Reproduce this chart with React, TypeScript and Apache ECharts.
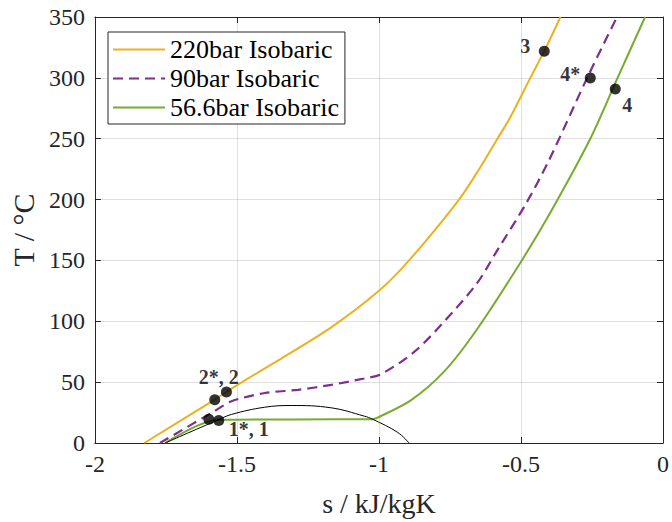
import React, { useEffect, useRef } from "react";
import * as echarts from "echarts";

// Entropy s (kJ/kgK) and temperature T (°C)
const s220: number[] = [-1.826, -1.578, -1.537, -1.498, -1.344, -1.168, -1.0, -0.894, -0.718, -0.642, -0.583, -0.539, -0.467, -0.418, -0.361];
const t220: number[] = [0, 35.6, 41.9, 47.8, 69.4, 95, 125, 150, 200, 227, 250, 267, 300, 322, 350];

const s90: number[] = [-1.771, -1.579, -1.519, -1.402, -1.285, -1.168, -1.052, -0.993, -0.876, -0.771, -0.654, -0.583, -0.484, -0.403, -0.267, -0.162];
const t90: number[] = [0, 26.2, 34.3, 41.1, 43.7, 47.8, 53, 56.5, 74.8, 99.6, 131.5, 158.5, 196, 231.5, 300, 350];

const s566: number[] = [-1.753, -1.566, -1.3, -1.022, -1.005, -0.888, -0.771, -0.654, -0.496, -0.396, -0.256, -0.16, -0.063];
const t566: number[] = [0, 19, 19.4, 19.5, 20.8, 35, 58.6, 93.7, 150.4, 189.6, 250, 300, 350];

const sDome: number[] = [-1.753, -1.566, -1.519, -1.402, -1.309, -1.168, -1.052, -1.022, -0.934, -0.894];
const tDome: number[] = [0, 19, 23.5, 29.4, 30.8, 28.9, 22.1, 19.5, 8.7, 0];

const pointNames: string[] = ["1*", "1", "2*", "2", "3", "4*", "4"];
const pointS: number[] = [-1.599, -1.564, -1.578, -1.537, -0.418, -0.256, -0.168];
const pointT: number[] = [19.5, 18.5, 35.6, 41.9, 321.9, 299.8, 290.9];
const pointLabels: string[] = ["", "1*, 1", "2*, 2", "", "3", "4*", "4"];

const seriesNames: string[] = ["220bar Isobaric", "90bar Isobaric", "56.6bar Isobaric"];
const xTickStep = 0.5;
const yTickStep = 50;

const FONT = '"Liberation Serif", "Times New Roman", serif';
const AXIS_COLOR = "#262626";

const zip = (a: number[], b: number[]) => a.map((v, i) => [v, b[i]]);

const labelOffsets: Record<string, number[]> = {
  "1*, 1": [30, 9],
  "2*, 2": [4, -23],
  "3": [-19, -5],
  "4*": [-20, -4],
  "4": [12, 16],
};

export default function App() {
  const ref = useRef<HTMLDivElement>(null);
  useEffect(() => {
    if (!ref.current) return;
    const chart = echarts.init(ref.current, undefined, { renderer: "svg", width: 672, height: 522 });
    const axisCommon = {
      min: -2,
      max: 0,
      interval: xTickStep,
      axisLine: { show: true, onZero: false, lineStyle: { color: AXIS_COLOR, width: 1 } },
      axisTick: { show: true, inside: true, length: 6, lineStyle: { color: AXIS_COLOR } },
    };
    const yCommon = {
      min: 0,
      max: 350,
      interval: yTickStep,
      axisLine: { show: true, onZero: false, lineStyle: { color: AXIS_COLOR, width: 1 } },
      axisTick: { show: true, inside: true, length: 6, lineStyle: { color: AXIS_COLOR } },
    };
    chart.setOption({
      animation: false,
      backgroundColor: "#ffffff",
      grid: { left: 93, top: 17, width: 570, height: 432, containLabel: false },
      legend: {
        data: seriesNames,
        orient: "vertical",
        left: 108,
        top: 32,
        padding: [3, 6, 2, 4],
        itemGap: 0,
        itemWidth: 52,
        itemHeight: 14,
        itemStyle: { opacity: 0 },
        backgroundColor: "#ffffff",
        borderColor: AXIS_COLOR,
        borderWidth: 1,
        borderRadius: 0,
        textStyle: { fontFamily: FONT, fontSize: 26, color: "#000", lineHeight: 29 },
      },
      xAxis: [
        {
          type: "value",
          ...axisCommon,
          position: "bottom",
          name: "s / kJ/kgK",
          nameLocation: "middle",
          nameGap: 46,
          nameTextStyle: { fontFamily: FONT, fontSize: 28, color: AXIS_COLOR },
          axisLabel: { fontFamily: FONT, fontSize: 24, color: AXIS_COLOR, margin: 9 },
          splitLine: { show: true, lineStyle: { color: "rgba(38,38,38,0.15)", width: 1 } },
        },
        {
          type: "value",
          ...axisCommon,
          position: "top",
          axisLabel: { show: false },
          splitLine: { show: false },
        },
      ],
      yAxis: [
        {
          type: "value",
          ...yCommon,
          position: "left",
          name: "T / °C",
          nameLocation: "middle",
          nameGap: 44,
          nameTextStyle: { fontFamily: FONT, fontSize: 30, color: AXIS_COLOR },
          axisLabel: { fontFamily: FONT, fontSize: 24, color: AXIS_COLOR, margin: 10 },
          splitLine: { show: true, lineStyle: { color: "rgba(38,38,38,0.15)", width: 1 } },
        },
        {
          type: "value",
          ...yCommon,
          position: "right",
          axisLabel: { show: false },
          splitLine: { show: false },
        },
      ],
      series: [
        {
          name: seriesNames[0],
          type: "line",
          data: zip(s220, t220),
          symbol: "none",
          smooth: 0.3,
          lineStyle: { color: "#EDB120", width: 2 },
          itemStyle: { color: "#EDB120" },
          z: 3,
        },
        {
          name: seriesNames[1],
          type: "line",
          data: zip(s90, t90),
          symbol: "none",
          smooth: 0.3,
          lineStyle: { color: "#7E2F8E", width: 2.2, type: [10, 6] },
          itemStyle: { color: "#7E2F8E" },
          z: 3,
        },
        {
          name: seriesNames[2],
          type: "line",
          data: zip(s566, t566),
          symbol: "none",
          smooth: 0.3,
          lineStyle: { color: "#77AC30", width: 2 },
          itemStyle: { color: "#77AC30" },
          z: 3,
        },
        {
          name: "dome",
          type: "line",
          data: zip(sDome, tDome),
          symbol: "none",
          smooth: 0.4,
          lineStyle: { color: "#000000", width: 1 },
          z: 4,
        },
        {
          name: "points",
          type: "scatter",
          symbolSize: 11,
          itemStyle: { color: "#000000" },
          z: 5,
          data: pointNames.map((n, i) => {
            const lab = pointLabels[i];
            return {
              name: n,
              value: [pointS[i], pointT[i]],
              label: lab
                ? {
                    show: true,
                    formatter: lab,
                    position: "inside",
                    offset: labelOffsets[lab],
                    fontFamily: FONT,
                    fontWeight: "bold",
                    fontSize: 20,
                    color: "#000",
                  }
                : { show: false },
            };
          }),
        },
      ],
    });
    return () => chart.dispose();
  }, []);
  return (
    <div
      ref={ref}
      style={{ position: "fixed", left: 0, top: 0, width: 672, height: 522, background: "#fff" }}
    />
  );
}
